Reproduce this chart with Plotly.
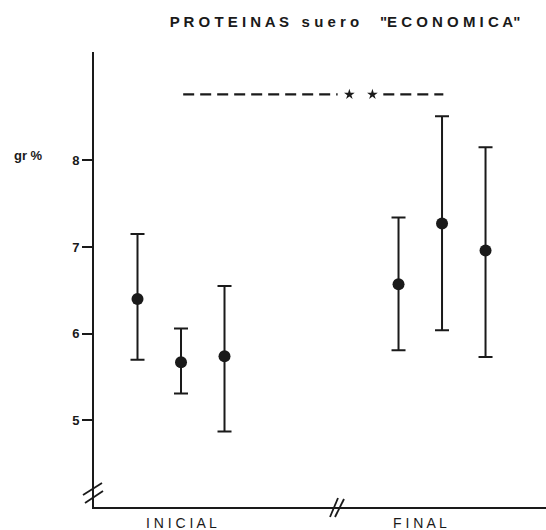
import plotly.graph_objects as go

# ---- data ----
groups = ["INICIAL", "INICIAL", "INICIAL", "FINAL", "FINAL", "FINAL"]
x_pos = [1, 2, 3, 7, 8, 9]
means = [6.40, 5.67, 5.74, 6.57, 7.27, 6.96]
upper = [7.15, 6.06, 6.55, 7.34, 8.51, 8.15]
lower = [5.70, 5.31, 4.87, 5.81, 6.04, 5.73]
y_ticks = [5, 6, 7, 8]
group_labels = ["I N I C I A L", "F I N A L"]
group_label_x = [2, 7.5]
sig_y = 8.76
sig_left = [2.05, 5.6]
sig_right = [6.65, 8.03]
star_x = [5.87, 6.4]

INK = "#1a1a1a"
FONT = "Liberation Sans"
PLOT_W, PLOT_H = 452, 455  # plot area size in px (for break-mark placement)

err_plus = [u - m for u, m in zip(upper, means)]
err_minus = [m - l for m, l in zip(means, lower)]

fig = go.Figure()
fig.add_trace(go.Scatter(
    x=x_pos, y=means, mode="markers",
    marker=dict(size=12, color=INK),
    error_y=dict(type="data", symmetric=False, array=err_plus, arrayminus=err_minus,
                 color=INK, thickness=2, width=7),
    showlegend=False, hoverinfo="skip"))

# significance dashed line
for seg in (sig_left, sig_right):
    fig.add_trace(go.Scatter(x=seg, y=[sig_y, sig_y], mode="lines",
                             line=dict(color=INK, width=2.2, dash="11px,6px"),
                             showlegend=False, hoverinfo="skip"))
fig.add_trace(go.Scatter(x=star_x, y=[sig_y] * 2, mode="markers",
                         marker=dict(symbol="star", size=8, color=INK),
                         showlegend=False, hoverinfo="skip"))

# axis break marks (paper coords, offsets in px from the plot origin)
def px(dx, dy):
    return dx / PLOT_W, dy / PLOT_H

for (ax, ay, bx, by) in [(-11, 12, 8, 24), (-9, 4, 9, 16)]:
    x0, y0 = px(ax, ay)
    x1, y1 = px(bx, by)
    fig.add_shape(type="line", xref="paper", yref="paper", x0=x0, y0=y0, x1=x1, y1=y1,
                  line=dict(color=INK, width=1.8))
for (ax, ay, bx, by) in [(236, -10, 244, 9), (241, -10, 250, 8)]:
    x0, y0 = px(ax, ay)
    x1, y1 = px(bx, by)
    fig.add_shape(type="line", xref="paper", yref="paper", x0=x0, y0=y0, x1=x1, y1=y1,
                  line=dict(color=INK, width=1.8))

for lab, lx in zip(group_labels, group_label_x):
    fig.add_annotation(x=lx, y=0, xref="x", yref="paper", yshift=-26,
                       text=lab, showarrow=False,
                       font=dict(family=FONT, size=14, color=INK))

fig.add_annotation(x=-0.146, xref="paper", xanchor="center", y=8.06, yref="y",
                   text="<b>gr %</b>", showarrow=False,
                   font=dict(family=FONT, size=13, color=INK))

fig.update_layout(
    width=546, height=530,
    margin=dict(l=94, r=0, t=52, b=23),
    paper_bgcolor="white", plot_bgcolor="white",
    title=dict(text='<b>P R O T E I N A S&nbsp;&nbsp; s u e r o&nbsp;&nbsp;&nbsp;&nbsp; "E C O N O M I C A"</b>',
               x=345 / 546, xanchor="center", y=1 - 22 / 530, yanchor="middle",
               font=dict(family=FONT, size=15, color=INK)),
    xaxis=dict(range=[0, 10.39], showline=True, linecolor=INK, linewidth=2,
               showgrid=False, zeroline=False, showticklabels=False, ticks=""),
    yaxis=dict(range=[4.0, 9.25], showline=True, linecolor=INK, linewidth=2,
               showgrid=False, zeroline=False, tickvals=y_ticks,
               ticktext=[f"<b>{t}</b>" for t in y_ticks],
               ticks="outside", ticklen=10, tickwidth=2, tickcolor=INK,
               tickfont=dict(family=FONT, size=13, color=INK)),
)

fig.write_html("out.html", config={"displayModeBar": False},
               post_script="document.body.style.margin='0';")
